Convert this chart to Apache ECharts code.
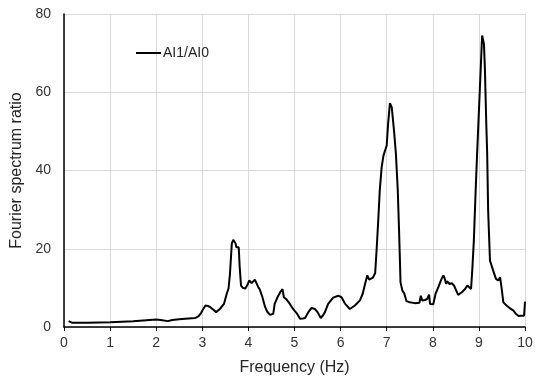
<!DOCTYPE html>
<html>
<head>
<meta charset="utf-8">
<script src="https://cdn.jsdelivr.net/npm/echarts@6/dist/echarts.min.js"></script>
<style>
  html, body { margin: 0; padding: 0; background: #fff; }
  #chart { width: 539px; height: 381px; }
</style>
</head>
<body>
<div id="chart"></div>
<script>
// Frequency (Hz) and the Fourier spectrum ratio AI1/AI0 at each frequency
const freq = [
  0.10, 0.13, 0.17, 0.5, 1.0, 1.5, 2.0, 2.1, 2.25, 2.35, 2.5, 2.7, 2.85, 2.92, 2.97,
  3.02, 3.07, 3.12, 3.18, 3.24, 3.30, 3.38, 3.47, 3.53, 3.57, 3.60, 3.64, 3.67, 3.70,
  3.72, 3.74, 3.77, 3.79, 3.81, 3.84, 3.88, 3.93, 3.98, 4.02, 4.07, 4.11, 4.14, 4.17,
  4.21, 4.25, 4.30, 4.36, 4.41, 4.47, 4.54, 4.57, 4.60, 4.63, 4.69, 4.74, 4.77, 4.80,
  4.83, 4.90, 4.94, 5.00, 5.05, 5.12, 5.18, 5.23, 5.30, 5.37, 5.44, 5.50, 5.57, 5.62,
  5.66, 5.73, 5.84, 5.95, 6.02, 6.10, 6.20, 6.31, 6.42, 6.48, 6.53, 6.58, 6.62, 6.70,
  6.75, 6.78, 6.82, 6.85, 6.89, 6.93, 6.96, 7.00, 7.03, 7.07, 7.11, 7.16, 7.20, 7.24,
  7.27, 7.30, 7.34, 7.38, 7.43, 7.50, 7.61, 7.71, 7.74, 7.77, 7.83, 7.88, 7.92, 7.94,
  8.01, 8.06, 8.12, 8.16, 8.19, 8.23, 8.26, 8.29, 8.31, 8.36, 8.41, 8.46, 8.50, 8.55,
  8.63, 8.70, 8.75, 8.79, 8.83, 8.86, 8.89, 8.93, 8.96, 9.07, 9.11, 9.13, 9.16, 9.18,
  9.20, 9.24, 9.31, 9.37, 9.42, 9.46, 9.49, 9.53, 9.60, 9.66, 9.69, 9.75, 9.80, 9.86,
  9.91, 9.95, 9.98, 10.0
];
const ratio = [
  1.5, 1.5, 1.1, 1.1, 1.2, 1.5, 1.9, 1.8, 1.5, 1.8, 2.0, 2.2, 2.3, 2.8, 3.5,
  4.6, 5.5, 5.4, 5.0, 4.4, 3.8, 4.6, 5.9, 8.5, 9.9, 13.6, 21.3, 22.3, 22.0,
  21.4, 20.4, 20.8, 20.4, 15.5, 10.6, 10.0, 9.8, 10.8, 11.9, 11.2, 11.3, 12.1, 11.6,
  10.3, 9.5, 7.8, 5.2, 3.9, 3.1, 3.4, 5.9, 6.3, 7.6, 8.9, 9.7, 7.6, 7.8,
  7.0, 5.9, 5.1, 4.2, 3.5, 2.1, 2.2, 2.3, 3.8, 4.9, 4.6, 3.8, 2.3, 3.0,
  3.8, 5.9, 7.5, 8.0, 7.6, 5.9, 4.6, 5.5, 6.8, 8.5, 11.0, 13.2, 12.1, 12.6,
  13.8, 19.5, 28.0, 35.0, 40.8, 43.8, 44.1, 46.4, 51.9, 57.2, 56.1, 50.0, 44.2, 35.0,
  24.0, 11.4, 9.3, 8.6, 6.6, 6.3, 6.1, 6.2, 8.0, 6.8, 6.9, 7.2, 8.3, 5.9,
  5.8, 8.5, 10.2, 11.4, 12.3, 13.2, 12.3, 11.0, 11.7, 11.0, 11.2, 10.6, 10.2, 8.2,
  8.9, 9.7, 10.6, 10.2, 9.7, 15.3, 22.0, 35.0, 44.0, 74.5, 72.3, 66.0, 52.0, 44.2,
  30.0, 17.0, 14.4, 12.3, 11.9, 12.7, 10.2, 6.3, 5.5, 4.9, 5.1, 4.2, 3.4, 2.8,
  2.9, 2.5, 2.9, 6.5
];
const seriesName = 'AI1/AI0';
const xTicks = { min: 0, max: 10, interval: 1 };
const yTicks = { min: 0, max: 80, interval: 20 };

const points = freq.map((f, i) => [f, ratio[i]]);
const font = 'Liberation Sans, Arial, sans-serif';

const chart = echarts.init(document.getElementById('chart'), null, { renderer: 'canvas' });
chart.setOption({
  animation: false,
  backgroundColor: '#ffffff',
  grid: { left: 64, right: 14, top: 14, bottom: 54, containLabel: false },
  legend: {
    data: [seriesName],
    left: 131,
    top: 41,
    icon: 'rect',
    itemWidth: 25,
    itemHeight: 2,
    textStyle: { fontFamily: font, fontSize: 14, color: '#262626', padding: [0, 0, 0, -3] }
  },
  xAxis: {
    type: 'value',
    min: xTicks.min, max: xTicks.max, interval: xTicks.interval,
    name: 'Frequency (Hz)',
    nameLocation: 'middle',
    nameGap: 33,
    nameTextStyle: { fontFamily: font, fontSize: 16, color: '#262626' },
    axisLine: { show: true, onZero: false, lineStyle: { color: '#000', width: 1.5 } },
    axisTick: { show: true, inside: false, length: 4, lineStyle: { color: '#000', width: 1 } },
    axisLabel: { fontFamily: font, fontSize: 14, color: '#333', margin: 9 },
    splitLine: { show: true, lineStyle: { color: '#d9d9d9', width: 1 } }
  },
  yAxis: {
    type: 'value',
    min: yTicks.min, max: yTicks.max, interval: yTicks.interval,
    name: 'Fourier spectrum ratio',
    nameLocation: 'middle',
    nameGap: 35,
    nameTextStyle: { fontFamily: font, fontSize: 16, color: '#262626' },
    axisLine: { show: true, lineStyle: { color: '#000', width: 1.5 } },
    axisTick: { show: false },
    axisLabel: { fontFamily: font, fontSize: 14, color: '#333', margin: 13 },
    splitLine: { show: true, lineStyle: { color: '#d9d9d9', width: 1 } }
  },
  series: [{
    name: seriesName,
    type: 'line',
    data: points,
    showSymbol: false,
    symbol: 'none',
    smooth: false,
    lineStyle: { color: '#000', width: 2 },
    itemStyle: { color: '#000' }
  }]
});
</script>
</body>
</html>
